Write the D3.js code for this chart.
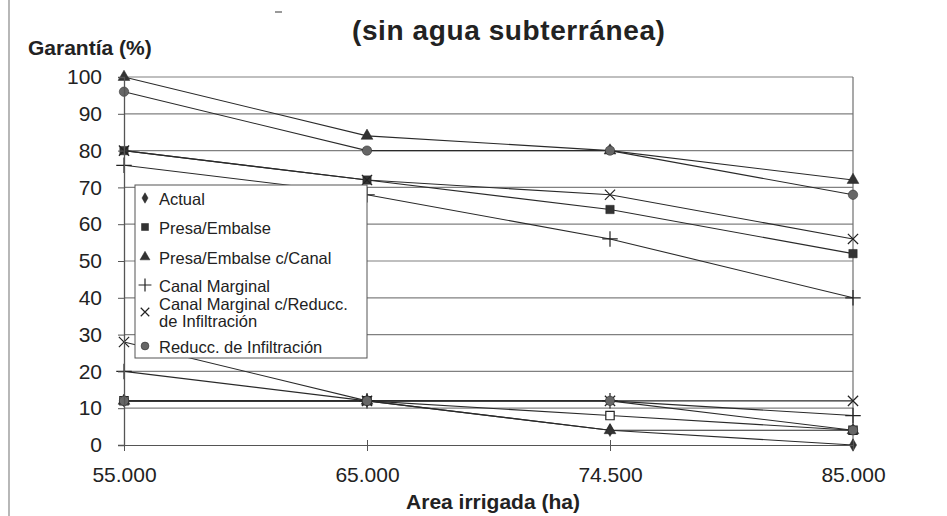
<!DOCTYPE html>
<html lang="es">
    <head>
        <meta charset="utf-8">
        <title>Garantía vs área irrigada (sin agua subterránea)</title>
        <script src="https://d3js.org/d3.v7.min.js"></script>
        <style type="text/css">
            body{
                margin: 0;
                background: #fff;
            }
            svg{
                display: block;
                font-family: "Liberation Sans", Arial, sans-serif;
            }
            .axis text{
                font-size: 21px;
                fill: #222;
            }
            .axis path, .axis line{
                stroke: #555;
            }
        </style>
    </head>
    <body>
        <svg width="947" height="516"></svg>
        <script type="text/javascript">

            // data
            const categories = ["55.000", "65.000", "74.500", "85.000"];
            const seriesNames = ["Actual", "Presa/Embalse", "Presa/Embalse c/Canal",
                                 "Canal Marginal", "Canal Marginal c/Reducc. de Infiltración",
                                 "Reducc. de Infiltración"];
            const yTicks = [0, 10, 20, 30, 40, 50, 60, 70, 80, 90, 100];

            // upper group of lines (null = not drawn)
            const upperValues = [
                null,
                [80, 72, 64, 52],
                [100, 84, 80, 72],
                [76, 68, 56, 40],
                [80, 72, 68, 56],
                [96, 80, 80, 68]
            ];

            // lower group of lines
            const lowerValues = [
                [12, 12, 4, 0],
                [12, 12, 8, 4],
                [12, 12, 4, 4],
                [20, 12, 12, 8],
                [28, 12, 12, 12],
                [12, 12, 12, 4]
            ];

            const margin = {left: 124, right: 94, top: 77, bottom: 71};
            const width = 947;
            const height = 516;

            const svg = d3.select("svg");

            const x = d3.scalePoint()
                        .domain(categories)
                        .range([margin.left, width - margin.right]);

            const y = d3.scaleLinear()
                        .domain([0, 100])
                        .range([height - margin.bottom, margin.top]);

            const symbols = [d3.symbolDiamond, d3.symbolSquare, d3.symbolTriangle,
                             d3.symbolPlus, d3.symbolTimes, d3.symbolCircle];
            const symSize = [45, 70, 60, 80, 70, 70];
            const stroked = [false, false, false, true, true, false];

            // scan border on the left + stray mark
            svg.append("line")
                .attr("x1", 9).attr("x2", 9)
                .attr("y1", 0).attr("y2", height)
                .attr("stroke", "#888").attr("stroke-width", 1.2);

            svg.append("line")
                .attr("x1", 275).attr("x2", 282)
                .attr("y1", 12).attr("y2", 12)
                .attr("stroke", "#777").attr("stroke-width", 1.5);

            // gridlines
            svg.append("g")
                .selectAll("line")
                .data(yTicks.filter(d => d > 0))
                .join("line")
                .attr("x1", margin.left)
                .attr("x2", width - margin.right)
                .attr("y1", d => y(d))
                .attr("y2", d => y(d))
                .attr("stroke", "#808080")
                .attr("stroke-width", 1.2);

            // right border
            svg.append("line")
                .attr("x1", width - margin.right).attr("x2", width - margin.right)
                .attr("y1", y(100)).attr("y2", y(0))
                .attr("stroke", "#707070").attr("stroke-width", 1.2);

            const line = d3.line()
                            .defined(d => d != null)
                            .x((d, i) => x(categories[i]))
                            .y(d => y(d));

            function drawGroup(values, hollowIdx){
                values.forEach((vals, s) => {
                    if (!vals) return;
                    svg.append("path")
                        .datum(vals)
                        .attr("d", line)
                        .attr("fill", "none")
                        .attr("stroke", "#2a2a2a")
                        .attr("stroke-width", 1.1);
                });
                values.forEach((vals, s) => {
                    if (!vals) return;
                    svg.append("g")
                        .selectAll("path")
                        .data(vals)
                        .join("path")
                        .attr("transform", (d, i) => "translate(" + x(categories[i]) + "," + y(d) + ")")
                        .attr("d", d3.symbol().type(symbols[s]).size(symSize[s]))
                        .attr("fill", stroked[s] ? "none" : (s == hollowIdx ? "#fff" : (s == 5 ? "#666" : "#333")))
                        .attr("stroke", "#222")
                        .attr("stroke-width", stroked[s] ? 1.2 : (s == hollowIdx ? 1.2 : 0.5));
                });
            }

            drawGroup(lowerValues, 1);
            drawGroup(upperValues, -1);

            // axes
            svg.append("g")
                .attr("class", "axis")
                .attr("transform", "translate(0," + y(0) + ")")
                .call(d3.axisBottom(x).tickSize(0).tickPadding(22))
                .call(g => g.select(".domain").attr("stroke", "#555").attr("stroke-width", 1.2))
                .call(g => g.selectAll(".tick").append("line")
                                .attr("y1", -5).attr("y2", 6)
                                .attr("stroke", "#555"));

            svg.append("g")
                .attr("class", "axis")
                .attr("transform", "translate(" + margin.left + ",0)")
                .call(d3.axisLeft(y).tickValues(yTicks).tickSize(6).tickPadding(16))
                .call(g => g.select(".domain").attr("stroke", "#444").attr("stroke-width", 1.3));

            svg.selectAll(".axis .tick text").attr("fill", "#222");

            // legend
            const legend = svg.append("g")
                                .attr("transform", "translate(135,185)");

            legend.append("rect")
                .attr("width", 232)
                .attr("height", 173)
                .attr("fill", "#fff")
                .attr("stroke", "#555")
                .attr("stroke-width", 1);

            const legendRows = [16, 45, 75, 103, 130, 164];

            seriesNames.forEach((name, s) => {
                const ly = legendRows[s];
                legend.append("path")
                    .attr("transform", "translate(10," + (ly - 3) + ")")
                    .attr("d", d3.symbol().type(symbols[s]).size(symSize[s] * 0.7))
                    .attr("fill", stroked[s] ? "none" : (s == 5 ? "#666" : "#333"))
                    .attr("stroke", "#222")
                    .attr("stroke-width", stroked[s] ? 1.2 : 0.5);

                if (s == 4){
                    legend.append("text")
                        .attr("x", 24).attr("y", ly - 5)
                        .attr("font-size", "16.5px").attr("fill", "#222")
                        .text("Canal Marginal c/Reducc.");
                    legend.append("text")
                        .attr("x", 24).attr("y", ly + 12)
                        .attr("font-size", "16.5px").attr("fill", "#222")
                        .text("de Infiltración");
                } else {
                    legend.append("text")
                        .attr("x", 24).attr("y", ly + 4)
                        .attr("font-size", "16.5px").attr("fill", "#222")
                        .text(name);
                }
            });

            // titles
            svg.append("text")
                .attr("x", 352)
                .attr("y", 40)
                .attr("font-size", "28px")
                .attr("font-weight", "bold")
                .attr("letter-spacing", "0.6px")
                .attr("fill", "#222")
                .text("(sin agua subterránea)");

            svg.append("text")
                .attr("x", 28)
                .attr("y", 55)
                .attr("font-size", "21px")
                .attr("font-weight", "bold")
                .attr("fill", "#222")
                .text("Garantía (%)");

            svg.append("text")
                .attr("x", 493)
                .attr("y", 509)
                .attr("text-anchor", "middle")
                .attr("font-size", "21px")
                .attr("font-weight", "bold")
                .attr("fill", "#222")
                .text("Area irrigada (ha)");

        </script>
    </body>
</html>
